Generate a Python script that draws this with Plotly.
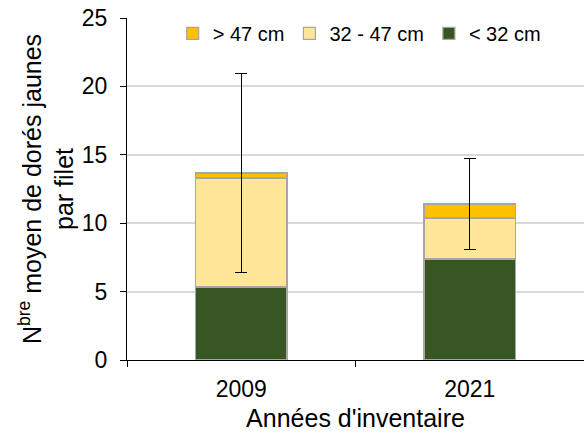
import plotly.graph_objects as go

years = ["2009", "2021"]
small = [5.34, 7.38]      # < 32 cm
medium = [7.96, 3.0]      # 32 - 47 cm
large = [0.37, 1.02]      # > 47 cm
err = [7.28, 3.33]        # error on the total

font_family = "Arial, Liberation Sans, sans-serif"
edge = dict(color="#a6a6a6", width=1.2)

fig = go.Figure()
fig.add_trace(go.Bar(x=years, y=small, name="< 32 cm",
                     marker=dict(color="#375623", line=edge)))
fig.add_trace(go.Bar(x=years, y=medium, name="32 - 47 cm",
                     marker=dict(color="#FFE699", line=edge)))
fig.add_trace(go.Bar(x=years, y=large, name="> 47 cm",
                     marker=dict(color="#FFC000", line=edge),
                     error_y=dict(type="data", array=err, visible=True,
                                  color="black", thickness=1.3, width=6)))

fig.update_layout(
    barmode="stack",
    bargap=0.6,
    width=584, height=436,
    margin=dict(l=127, r=0, t=18, b=76),
    paper_bgcolor="white", plot_bgcolor="white",
    font=dict(family=font_family, size=23, color="black"),
    legend=dict(orientation="h", traceorder="reversed",
                x=0.10, xanchor="left", y=0.955, yanchor="middle",
                bgcolor="white", font=dict(size=20),
                itemwidth=30, tracegroupgap=0),
    showlegend=True,
)
fig.update_xaxes(
    type="category", showline=True, linecolor="black", linewidth=1.2,
    ticks="outside", tickson="boundaries", ticklen=6, tickcolor="black",
    showgrid=False, tickfont=dict(size=23), ticklabelstandoff=8,
    title=dict(text="Années d'inventaire", font=dict(size=25), standoff=8),
)
fig.update_yaxes(
    range=[0, 25], dtick=5, showline=True, linecolor="black", linewidth=1.2,
    ticks="outside", ticklen=6, tickcolor="black",
    showgrid=True, gridcolor="#d9d9d9", gridwidth=1.5,
    tickfont=dict(size=23), zeroline=False, ticklabelstandoff=8,
    title=dict(text="N<sup>bre</sup> moyen de dorés jaunes<br>par filet",
               font=dict(size=25), standoff=0),
)

fig.write_html("out.html")
